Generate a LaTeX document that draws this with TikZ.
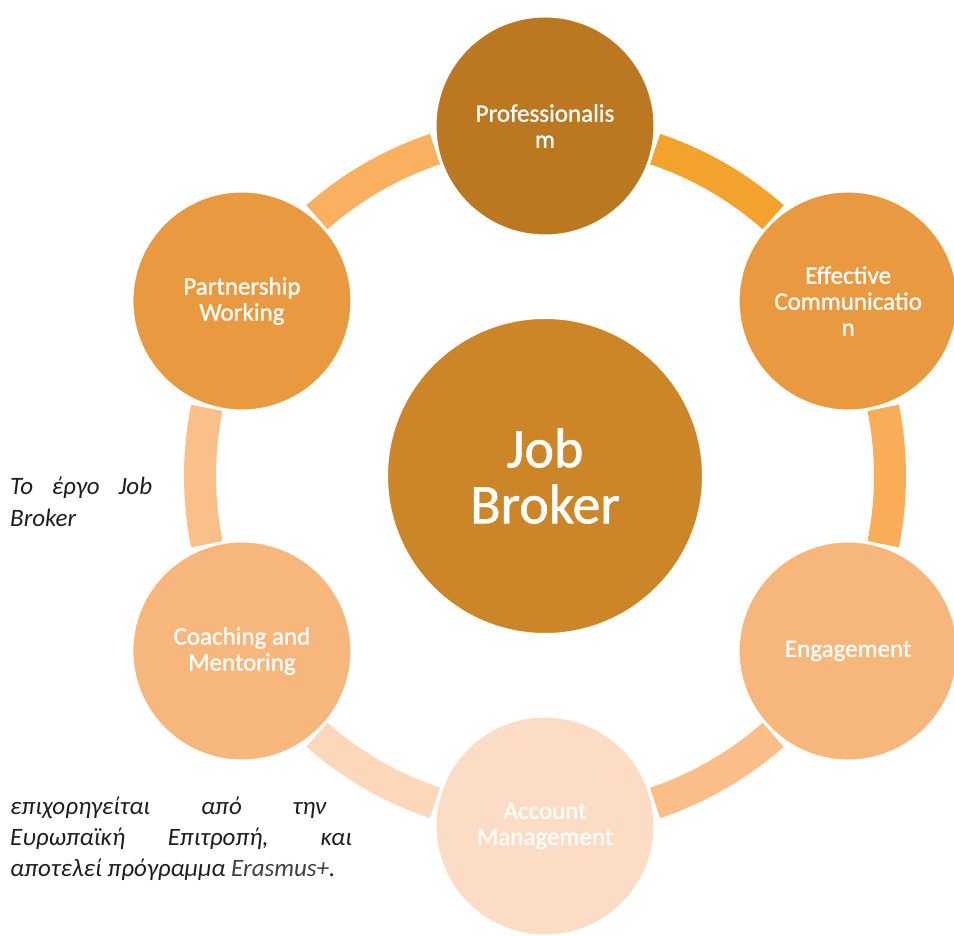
\documentclass[tikz,border=0pt]{standalone}
\usepackage{fontspec}
\setmainfont{Carlito}
\newfontfamily\cfont[FakeBold=1.0]{Carlito}
\newfontfamily\gfont{Carlito}
\usetikzlibrary{calc}
\definecolor{aTR}{HTML}{F4A22E}
\definecolor{aR}{HTML}{F9AD58}
\definecolor{aBR}{HTML}{FBBE88}
\definecolor{aBL}{HTML}{FDD7BA}
\definecolor{aL}{HTML}{FBBF89}
\definecolor{aTL}{HTML}{F9B060}
\definecolor{cProf}{HTML}{BB7820}
\definecolor{cEff}{HTML}{E99A40}
\definecolor{cEng}{HTML}{F6B67C}
\definecolor{cAcc}{HTML}{FDDCC5}
\definecolor{cCoach}{HTML}{F6B67C}
\definecolor{cPart}{HTML}{E99A40}
\definecolor{cCenter}{HTML}{CC8628}
\definecolor{txtgray}{HTML}{1E1E1E}
\definecolor{erasgray}{HTML}{404040}
\tikzset{
  ringarc/.style={line width=32pt, line cap=butt},
  outercirc/.style={circle, minimum size=220pt, inner sep=0pt, draw=white, line width=3pt,
    text=white, align=center, font=\cfont\fontsize{25}{26}\selectfont},
  centercirc/.style={circle, minimum size=316pt, inner sep=0pt, draw=white, line width=2pt,
    text=white, align=center, font=\cfont\fontsize{56}{56}\selectfont},
  greektext/.style={anchor=base west, inner sep=0pt, text=txtgray,
    font=\gfont\itshape\fontsize{25}{30}\selectfont}
}
\begin{document}
\begin{tikzpicture}[x=1pt,y=1pt]
\useasboundingbox (0,0) rectangle (954,936);
\coordinate (C) at (545,460);
% ring arcs
\draw[ringarc, aTR] ($(C)+(48.6:345)$) arc[start angle=48.6, end angle=71.4, radius=345];
\draw[ringarc, aR] ($(C)+(-11.4:345)$) arc[start angle=-11.4, end angle=11.4, radius=345];
\draw[ringarc, aBR] ($(C)+(-71.4:345)$) arc[start angle=-71.4, end angle=-48.6, radius=345];
\draw[ringarc, aBL] ($(C)+(-131.4:345)$) arc[start angle=-131.4, end angle=-108.6, radius=345];
\draw[ringarc, aL] ($(C)+(168.6:345)$) arc[start angle=168.6, end angle=191.4, radius=345];
\draw[ringarc, aTL] ($(C)+(108.6:345)$) arc[start angle=108.6, end angle=131.4, radius=345];
% circles
\node[centercirc, fill=cCenter] (center) at (C) {Job\\Broker};
\node[outercirc, fill=cProf] (prof) at ($(C)+(90:350)$) {Professionalis\\m};
\node[outercirc, fill=cEff] (eff) at ($(C)+(30:350)$) {Effective\\Communicatio\\n};
\node[outercirc, fill=cEng] (eng) at ($(C)+(-30:350)$) {Engagement};
\node[outercirc, fill=cAcc] (acc) at ($(C)+(-90:350)$) {Account\\Management};
\node[outercirc, fill=cCoach] (coach) at ($(C)+(-150:350)$) {Coaching and\\Mentoring};
\node[outercirc, fill=cPart] (part) at ($(C)+(150:350)$) {Partnership\\Working};
% side text
\node[greektext] (g1) at (10,441) {\makebox[142pt][s]{Το έργο Job}};
\node[greektext] (g2) at (10,409) {Broker};
\node[greektext] (g3) at (10,121) {\makebox[316pt][s]{επιχορηγείται από την}};
\node[greektext] (g4) at (10,90) {\makebox[342pt][s]{Ευρωπαϊκή Επιτροπή, και}};
\node[greektext] (g5) at (10,59) {αποτελεί πρόγραμμα \textcolor{erasgray}{Erasmus+}.};
\end{tikzpicture}
\end{document}
